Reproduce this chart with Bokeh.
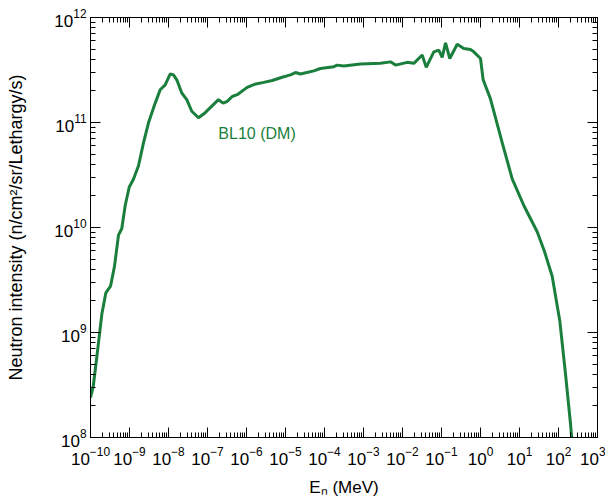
from bokeh.plotting import figure
from bokeh.models import LogAxis, Label, Range1d, FixedTicker
from bokeh.embed import file_html
from bokeh.resources import INLINE

# Neutron energy (MeV) and intensity (n/cm^2/sr/Lethargy/s)
energy = [1.0e-10, 1.17e-10, 1.45e-10, 1.95e-10, 2.47e-10, 3.26e-10, 4.12e-10, 5.22e-10,
          6.35e-10, 7.76e-10, 9.82e-10, 1.27e-9, 1.70e-9, 2.29e-9, 3.07e-9, 4.56e-9,
          6.12e-9, 8.22e-9, 1.11e-8, 1.34e-8, 1.63e-8, 2.19e-8, 2.94e-8, 3.95e-8,
          5.87e-8, 8.73e-8, 1.29e-7, 1.91e-7, 2.53e-7, 3.20e-7, 4.30e-7, 5.78e-7,
          1.04e-6, 1.60e-6, 2.78e-6, 4.56e-6, 8.22e-6, 1.34e-5, 1.80e-5, 2.43e-5,
          5.32e-5, 7.89e-5, 1.73e-4, 2.12e-4, 3.13e-4, 8.38e-4, 2.73e-3, 4.92e-3,
          6.62e-3, 1.32e-2, 1.95e-2, 3.20e-2, 4.06e-2, 6.35e-2, 8.53e-2, 1.04e-1,
          1.27e-1, 1.63e-1, 2.53e-1, 3.73e-1, 5.55e-1, 6.73e-1, 1.0, 1.17,
          1.80, 3.60, 6.50, 12.9, 28.4, 43.8, 68.9, 108.0,
          151.0, 203.0, 229.0]
intensity = [2.40e8, 3.03e8, 5.81e8, 1.49e9, 2.38e9, 2.76e9, 4.26e9, 8.45e9,
             9.79e9, 1.62e10, 2.42e10, 2.90e10, 3.87e10, 6.43e10, 9.93e10, 1.53e11,
             2.05e11, 2.28e11, 2.90e11, 2.84e11, 2.55e11, 1.91e11, 1.65e11, 1.28e11,
             1.11e11, 1.24e11, 1.43e11, 1.65e11, 1.53e11, 1.59e11, 1.77e11, 1.84e11,
             2.16e11, 2.31e11, 2.41e11, 2.51e11, 2.70e11, 2.84e11, 2.99e11, 2.90e11,
             3.10e11, 3.27e11, 3.40e11, 3.52e11, 3.45e11, 3.61e11, 3.66e11, 3.78e11,
             3.52e11, 3.74e11, 3.66e11, 4.39e11, 3.35e11, 4.71e11, 4.89e11, 4.17e11,
             5.73e11, 4.07e11, 5.56e11, 5.07e11, 4.95e11, 4.71e11, 4.07e11, 2.55e11,
             1.68e11, 6.43e10, 2.90e10, 1.62e10, 9.10e9, 5.90e9, 3.43e9, 1.29e9,
             4.05e8, 1.36e8, 7.87e7]

x_major = [1e-10, 1e-9, 1e-8, 1e-7, 1e-6, 1e-5, 1e-4, 1e-3, 1e-2, 1e-1, 1e0, 1e1, 1e2, 1e3]
y_major = [1e8, 1e9, 1e10, 1e11, 1e12]
x_minor = [m * d for d in x_major[:-1] for m in range(2, 10)]
y_minor = [m * d for d in y_major[:-1] for m in range(2, 10)]

label_text = "BL10 (DM)"
label_x, label_y = 1.9e-7, 7.9e10

GREEN = "#1a7f3c"
FONT = "Liberation Sans"

p = figure(width=605, height=499, x_axis_type="log", y_axis_type="log",
           x_range=Range1d(1e-10, 1e3), y_range=Range1d(1e8, 1e12),
           output_backend="svg", toolbar_location=None,
           min_border_left=90, min_border_right=8, min_border_top=17, min_border_bottom=58)
p.grid.visible = False
p.outline_line_color = "black"
p.background_fill_color = "white"
p.border_fill_color = "white"

p.line(energy, intensity, line_color=GREEN, line_width=3)

p.add_layout(Label(x=label_x, y=label_y, text=label_text, text_color=GREEN,
                   text_font=FONT, text_font_size="16px", text_baseline="alphabetic"))

xt = FixedTicker(ticks=x_major, minor_ticks=x_minor)
yt = FixedTicker(ticks=y_major, minor_ticks=y_minor)

def style(ax, ticker, labels=True):
    ax.ticker = ticker
    ax.major_tick_in = 10
    ax.major_tick_out = 0
    ax.minor_tick_in = 5
    ax.minor_tick_out = 0
    ax.axis_line_color = "black"
    ax.major_tick_line_color = "black"
    ax.minor_tick_line_color = "black"
    ax.major_label_text_font = FONT
    ax.major_label_text_font_size = "17px" if labels else "1px"
    ax.major_label_text_color = "black"
    if not labels:
        ax.major_label_text_alpha = 0
        ax.major_label_standoff = 0
    ax.axis_label_text_font = FONT
    ax.axis_label_text_font_size = "18px"
    ax.axis_label_text_font_style = "normal"
    ax.axis_label_text_color = "black"

style(p.xaxis[0], xt)
style(p.yaxis[0], yt)
p.xaxis[0].axis_label = "E\u2099 (MeV)"
p.xaxis[0].axis_label_text_font_size = "17px"
p.yaxis[0].axis_label = "Neutron intensity (n/cm\u00b2/sr/Lethargy/s)"
p.xaxis[0].major_label_standoff = 9
p.yaxis[0].major_label_standoff = 4
p.xaxis[0].axis_label_standoff = 10
p.yaxis[0].axis_label_standoff = 25

top = LogAxis()
style(top, xt, labels=False)
p.add_layout(top, "above")
right = LogAxis()
style(right, yt, labels=False)
p.add_layout(right, "right")

open("out.html", "w").write(file_html(p, INLINE))
